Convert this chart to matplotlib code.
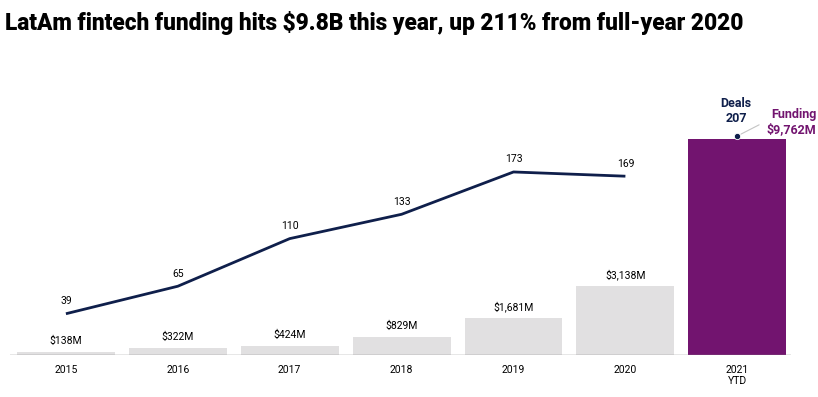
import matplotlib.pyplot as plt

years = ['2015', '2016', '2017', '2018', '2019', '2020', '2021\nYTD']
funding = [138, 322, 424, 829, 1681, 3138, 9762]
deals = [39, 65, 110, 133, 173, 169, 207]

gray = '#e1e0e1'
purple = '#72146f'
navy = '#0f1f4b'

plt.rcParams['font.family'] = ['Roboto', 'DejaVu Sans']

fig = plt.figure(figsize=(8.18, 3.97), dpi=100)
fig.text(0.006, 0.942, 'LatAm fintech funding hits $9.8B this year, up 211% from full-year 2020',
         fontsize=16.3, fontweight='black', va='center', ha='left')

ax = fig.add_axes([0.0122, 0.1058, 0.9548, 0.743])
x = list(range(len(years)))
colors = [gray] * 6 + [purple]
ax.bar(x, funding, width=0.875, color=colors, zorder=1)
ax.set_xlim(-0.5, 6.48)
ax.set_ylim(0, 13332)

for i in range(6):
    ax.annotate('$%sM' % format(funding[i], ','), (x[i], funding[i]), xytext=(0, 4),
                textcoords='offset points', ha='center', va='bottom', fontsize=7.5)

ax2 = ax.twinx()
ax2.set_ylim(0, 278.8)
ax2.plot(x[:6], deals[:6], color=navy, lw=2, solid_capstyle='butt')
ax2.plot(x[6], deals[6], 'o', color=navy, ms=4.5, markeredgecolor='white', markeredgewidth=0.6)
for i in range(6):
    ax2.annotate(str(deals[i]), (x[i], deals[i]), xytext=(0, 5.5),
                 textcoords='offset points', ha='center', va='bottom', fontsize=7.5)

ax2.annotate('Deals\n%d' % deals[6], (x[6], deals[6]), xytext=(-1, 8), textcoords='offset points',
             ha='center', va='bottom', fontsize=9, fontweight='bold', color=navy, linespacing=1.15)
ax2.annotate('Funding\n$%sM' % format(funding[6], ','), (x[6], deals[6]), xytext=(57, 0),
             textcoords='offset points', ha='right', va='bottom', fontsize=9, fontweight='bold',
             color=purple, linespacing=1.15, multialignment='right',
             arrowprops=dict(arrowstyle='-', color='#c4c4c4', lw=0.8, shrinkA=4, shrinkB=3,
                             relpos=(0, 0.55)))

for a in (ax, ax2):
    for s in ('top', 'right', 'left', 'bottom'):
        a.spines[s].set_visible(False)
    a.set_yticks([])
# baseline drawn by hand so it stops at the axes edge
ax.axhline(0, color='#888888', lw=1, zorder=3)
ax.set_xticks(x)
ax.set_xticklabels(years, fontsize=7.5, linespacing=1.1)
ax.tick_params(axis='x', length=0, pad=7)

fig.savefig('out.png', dpi=100)
